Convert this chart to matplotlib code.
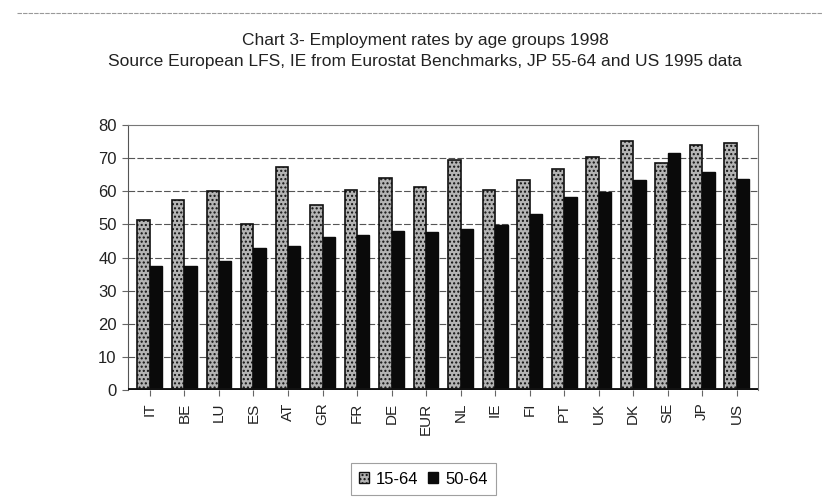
import matplotlib
matplotlib.use("Agg")
import matplotlib.pyplot as plt
from matplotlib.patches import Patch
import numpy as np

countries = ["IT", "BE", "LU", "ES", "AT", "GR", "FR", "DE", "EUR", "NL",
             "IE", "FI", "PT", "UK", "DK", "SE", "JP", "US"]
rate_15_64 = [51.4, 57.3, 60.2, 50.2, 67.4, 55.7, 60.3, 64.0, 61.2, 69.4,
              60.5, 63.5, 66.8, 70.3, 75.2, 68.4, 74.1, 74.6]
rate_50_64 = [37.3, 37.3, 38.8, 42.8, 43.5, 46.2, 46.9, 48.1, 47.7, 48.6,
              49.9, 53.1, 58.2, 59.7, 63.5, 71.4, 65.8, 63.7]
yticks = [0, 10, 20, 30, 40, 50, 60, 70, 80]

plt.rcParams["font.family"] = ["Liberation Sans", "DejaVu Sans"]

fig = plt.figure(figsize=(8.3, 4.99), dpi=100)
ax = fig.add_axes([0.154, 0.2184, 0.759, 0.5311])

x = np.arange(len(countries))
w = 0.36

ax.bar(x - w / 2, rate_15_64, width=w, color="#b4b4b4", hatch="....",
       edgecolor="#111111", linewidth=1.2, zorder=3)
ax.bar(x + w / 2, rate_50_64, width=w, color="#0a0a0a",
       edgecolor="#0a0a0a", linewidth=1.0, zorder=3)

ax.set_xlim(-0.64, len(countries) - 1 + 0.61)
ax.set_ylim(0, 80)
ax.set_yticks(yticks)
ax.set_yticklabels([str(t) for t in yticks], fontsize=12, color="#222222")
ax.set_xticks(x)
ax.set_xticklabels(countries, rotation=90, fontsize=11, color="#222222")
ax.tick_params(axis="y", length=4, width=0.8, color="#666666", pad=4)
ax.tick_params(axis="x", length=4, width=0.8, color="#666666", pad=5)

for t in yticks[1:-1]:
    ax.axhline(t, color="#555555", linestyle=(0, (6, 2)), linewidth=0.8, zorder=1)

# floor of the plot
ax.axhline(0, color="#111111", linewidth=3.5, zorder=4)

for side in ["top", "right"]:
    ax.spines[side].set_color("#777777")
    ax.spines[side].set_linewidth(0.8)
ax.spines["left"].set_color("#555555")
ax.spines["bottom"].set_visible(False)

fig.text(0.512, 0.918, "Chart 3- Employment rates by age groups 1998",
         ha="center", va="center", fontsize=12.5, color="#222222")
fig.text(0.512, 0.877,
         "Source European LFS, IE from Eurostat Benchmarks, JP 55-64 and US 1995 data",
         ha="center", va="center", fontsize=12.5, color="#222222")

# thin rule across the top of the page
fig.add_artist(plt.Line2D([0.02, 0.99], [0.974, 0.974], color="#999999",
                          linewidth=0.8, linestyle=(0, (4, 1))))

handles = [Patch(facecolor="#b4b4b4", hatch="....", edgecolor="#111111"),
           Patch(facecolor="#0a0a0a", edgecolor="#0a0a0a")]
leg = fig.legend(handles, ["15-64", "50-64"], loc="center",
                 bbox_to_anchor=(0.510, 0.040), ncol=2, fontsize=12,
                 frameon=True, fancybox=False, handlelength=0.6,
                 handleheight=0.6, handletextpad=0.4, columnspacing=0.6,
                 borderpad=0.5)
leg.get_frame().set_edgecolor("#888888")
leg.get_frame().set_linewidth(0.8)

fig.savefig("out.png", dpi=100)
